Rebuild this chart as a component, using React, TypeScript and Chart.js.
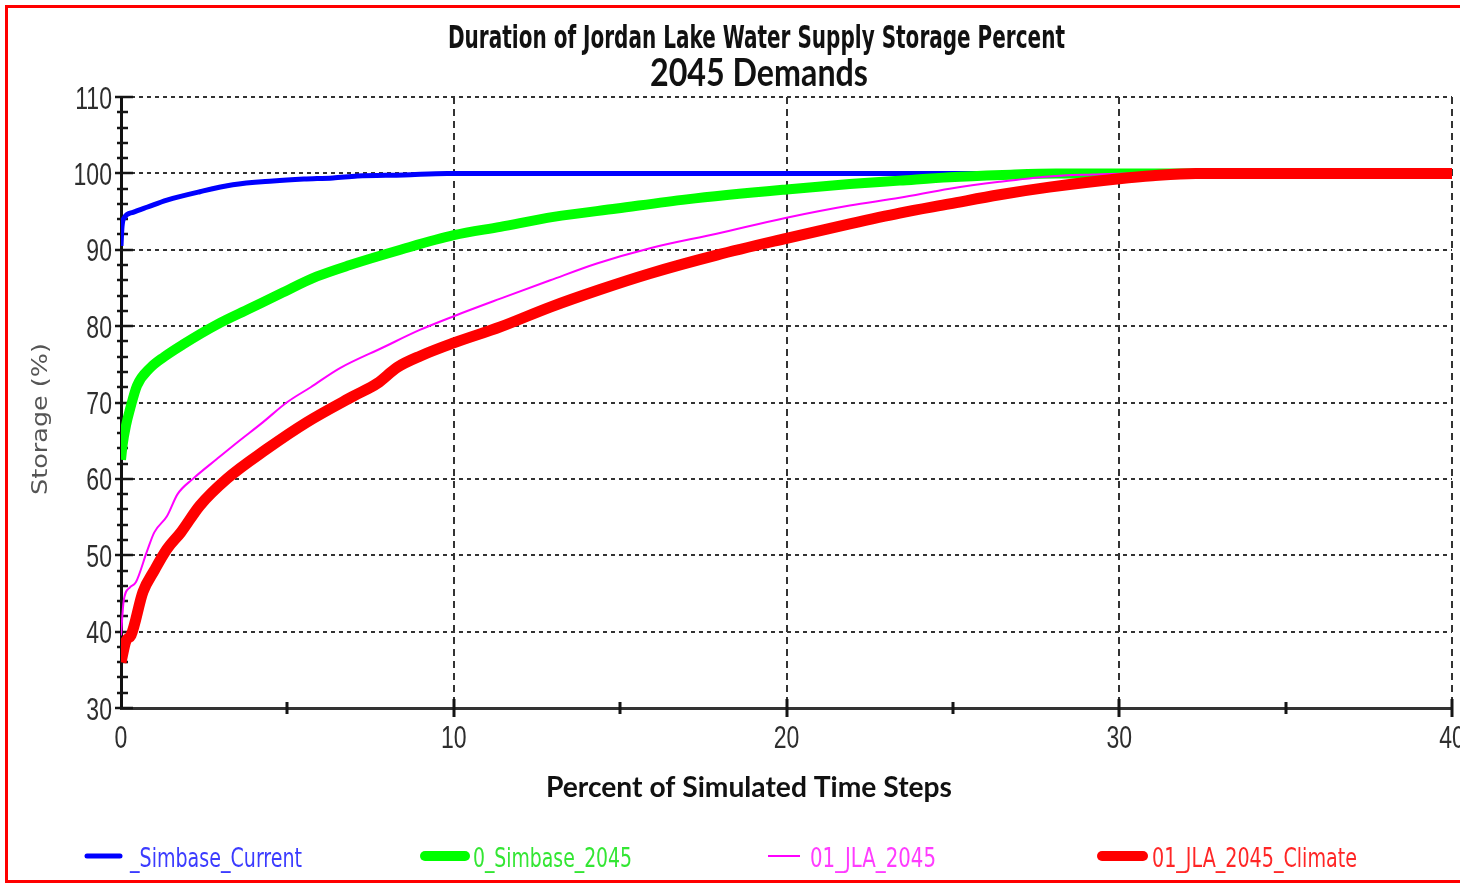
import React, { useEffect, useRef } from "react";
import { Chart, registerables } from "chart.js";

Chart.register(...registerables);

const TITLE = "Duration of Jordan Lake Water Supply Storage Percent";
const SUBTITLE = "2045 Demands";
const X_TITLE = "Percent of Simulated Time Steps";
const Y_TITLE = "Storage (%)";

const SERIES_NAMES = ["_Simbase_Current", "0_Simbase_2045", "01_JLA_2045", "01_JLA_2045_Climate"];
const LINE_COLORS = ["#0000ff", "#00ff00", "#ff00ff", "#ff0000"];
const TEXT_COLORS = ["#3b3bff", "#33e633", "#ff3cff", "#ff2626"];
const LINE_WIDTHS = [5, 10, 2, 11];

const simbaseCurrentX = [0, 0.03, 0.1, 0.36, 0.8, 1.38, 2.37, 3.36, 4.57, 5.5, 6.37, 7.1, 8.5, 9.8, 40];
const simbaseCurrentY = [90.5, 93, 94.2, 94.9, 95.6, 96.5, 97.6, 98.5, 99.0, 99.25, 99.4, 99.65, 99.8, 100, 100];

const simbase2045X = [0, 0.05, 0.15, 0.27, 0.48, 0.87, 1.3, 1.86, 2.88, 3.87, 4.86, 5.89, 6.88, 8.4, 10, 11.4, 13, 14.9, 17, 20, 21.9, 23.4, 24.9, 26.5, 28.1, 40];
const simbase2045Y = [62.5, 64.5, 67, 69.1, 72.2, 74.5, 76, 77.6, 80.2, 82.3, 84.4, 86.5, 88.0, 90.0, 91.9, 93.0, 94.3, 95.4, 96.6, 97.9, 98.6, 99.05, 99.5, 99.8, 100, 100];

const jla2045X = [0, 0.08, 0.27, 0.45, 0.78, 1.0, 1.38, 1.7, 2.16, 2.88, 3.5, 4.26, 4.98, 5.7, 6.58, 7.87, 8.98, 10, 11.4, 12.9, 14.3, 15.9, 17.9, 20, 21.9, 23.4, 24.9, 26.4, 27.9, 29.2, 30.4, 40];
const jla2045Y = [39.5, 44, 45.8, 46.5, 50.5, 53, 55.1, 58, 60, 62.6, 64.8, 67.4, 70, 72, 74.5, 77.2, 79.5, 81.3, 83.6, 86, 88.2, 90.2, 92.1, 94.2, 95.8, 96.8, 98, 98.9, 99.6, 99.85, 100, 100];

const jlaClimateX = [0, 0.15, 0.3, 0.66, 1.0, 1.38, 1.8, 2.37, 3.18, 4.38, 5.58, 6.97, 7.7, 8.3, 9, 10, 11.4, 12.9, 14.4, 15.9, 17.9, 20, 21.9, 23.4, 24.9, 26.4, 27.9, 30, 31, 32.3, 40];
const jlaClimateY = [36, 38.8, 39.5, 45.2, 48, 50.8, 53, 56.5, 60, 63.9, 67.4, 70.8, 72.5, 74.6, 76.1, 77.8, 79.9, 82.5, 84.8, 86.9, 89.3, 91.5, 93.4, 94.8, 96, 97.2, 98.2, 99.3, 99.7, 100, 100];

const X_MIN = 0;
const X_MAX = 40;
const X_STEP = 10;
const X_MINOR_STEP = 5;
const Y_MIN = 30;
const Y_MAX = 110;
const Y_STEP = 10;
const Y_MINOR_STEP = 2;

const NARROW = '"Liberation Sans Narrow", "Arial Narrow", "DejaVu Sans Condensed", sans-serif';
const TICK_FONT = '32px "Liberation Sans", Arial, sans-serif';
const CANVAS_W = 1480;
const CANVAS_H = 883;

function fitText(
  ctx: CanvasRenderingContext2D,
  text: string,
  x: number,
  y: number,
  width: number,
  font: string,
  color: string,
  align: CanvasTextAlign
) {
  ctx.save();
  ctx.font = font;
  ctx.fillStyle = color;
  ctx.textBaseline = "alphabetic";
  ctx.textAlign = align;
  const w = ctx.measureText(text).width;
  const s = w > 0 ? width / w : 1;
  ctx.translate(x, y);
  ctx.scale(s, 1);
  ctx.fillText(text, 0, 0);
  ctx.restore();
}

function scaledText(
  ctx: CanvasRenderingContext2D,
  text: string,
  x: number,
  y: number,
  sx: number,
  font: string,
  color: string,
  align: CanvasTextAlign
) {
  ctx.save();
  ctx.font = font;
  ctx.fillStyle = color;
  ctx.textBaseline = "alphabetic";
  ctx.textAlign = align;
  ctx.translate(x, y);
  ctx.scale(sx, 1);
  ctx.fillText(text, 0, 0);
  ctx.restore();
}

const axisTicksPlugin = {
  id: "axisTicks",
  beforeDatasetsDraw(chart: any) {
    const ctx = chart.ctx as CanvasRenderingContext2D;
    const xs = chart.scales.x;
    const ys = chart.scales.y;
    const left = chart.chartArea.left;
    const bottom = chart.chartArea.bottom;
    ctx.save();
    ctx.strokeStyle = "#151515";
    ctx.lineWidth = 2.5;
    for (let v = Y_MIN; v <= Y_MAX; v += Y_MINOR_STEP) {
      const py = Math.round(ys.getPixelForValue(v));
      const major = v % Y_STEP === 0;
      ctx.beginPath();
      ctx.moveTo(left - (major ? 6 : 4), py);
      ctx.lineTo(left + (major ? 12 : 7), py);
      ctx.stroke();
    }
    ctx.lineWidth = 3;
    for (let v = X_MIN + X_MINOR_STEP; v <= X_MAX; v += X_MINOR_STEP) {
      const px = Math.round(xs.getPixelForValue(v));
      const major = v % X_STEP === 0;
      ctx.beginPath();
      ctx.moveTo(px, bottom - (major ? 9 : 6));
      ctx.lineTo(px, bottom + (major ? 9 : 6));
      ctx.stroke();
    }
    ctx.restore();

    // tick labels from the library's scale ticks
    ys.ticks.forEach((t: any) => {
      const py = ys.getPixelForValue(t.value);
      scaledText(ctx, String(t.value), left - 9, py + 11.5, 0.72, TICK_FONT, "#2e2e2e", "right");
    });
    xs.ticks.forEach((t: any) => {
      const px = xs.getPixelForValue(t.value);
      scaledText(ctx, String(t.value), px, bottom + 40, 0.72, TICK_FONT, "#2e2e2e", "center");
    });
  },
};

const textPlugin = {
  id: "texts",
  afterDraw(chart: any) {
    const ctx = chart.ctx as CanvasRenderingContext2D;
    fitText(ctx, TITLE, 756.5, 48, 617, `bold 32px ${NARROW}`, "#111", "center");
    fitText(ctx, SUBTITLE, 759, 86, 218, "bold 38px Lato, 'Open Sans', sans-serif", "#111", "center");
    fitText(ctx, X_TITLE, 749, 797, 406, "bold 28px Lato, 'Open Sans', sans-serif", "#111", "center");
    ctx.save();
    ctx.translate(47, 419);
    ctx.rotate(-Math.PI / 2);
    fitText(ctx, Y_TITLE, 0, 0, 152, "21px 'DejaVu Sans', sans-serif", "#555", "center");
    ctx.restore();

    // legend
    const lineStarts = [87, 425, 768, 1102];
    const lineEnds = [120, 465, 800, 1143];
    const textStarts = [130, 473, 810, 1152];
    const textWidths = [172, 159, 126, 205];
    const legendLineY = 856;
    const legendTextY = 867;
    const legendWidths = [5, 10, 2, 10];
    chart.data.datasets.forEach((ds: any, i: number) => {
      ctx.save();
      ctx.strokeStyle = ds.borderColor;
      ctx.lineWidth = legendWidths[i];
      ctx.lineCap = legendWidths[i] > 3 ? "round" : "butt";
      ctx.beginPath();
      ctx.moveTo(lineStarts[i], legendLineY);
      ctx.lineTo(lineEnds[i], legendLineY);
      ctx.stroke();
      ctx.restore();
      fitText(ctx, ds.label, textStarts[i], legendTextY, textWidths[i], `26px ${NARROW}`, TEXT_COLORS[i], "left");
    });
  },
};

function toPoints(xs: number[], ys: number[]) {
  return xs.map((x, i) => ({ x, y: ys[i] }));
}

export default function App() {
  const canvasRef = useRef<HTMLCanvasElement | null>(null);

  useEffect(() => {
    const canvas = canvasRef.current;
    if (!canvas) return;
    const seriesX = [simbaseCurrentX, simbase2045X, jla2045X, jlaClimateX];
    const seriesY = [simbaseCurrentY, simbase2045Y, jla2045Y, jlaClimateY];
    const chart = new Chart(canvas, {
      type: "line",
      data: {
        datasets: SERIES_NAMES.map((name, i) => ({
          label: name,
          data: toPoints(seriesX[i], seriesY[i]),
          borderColor: LINE_COLORS[i],
          backgroundColor: LINE_COLORS[i],
          borderWidth: LINE_WIDTHS[i],
          pointRadius: 0,
          cubicInterpolationMode: "monotone",
          fill: false,
          order: 4 - i,
          clip: 0,
          borderJoinStyle: "round",
        })),
      },
      options: {
        responsive: false,
        animation: false,
        devicePixelRatio: 1,
        layout: { padding: { left: 0, right: 28, top: 97, bottom: 0 } },
        plugins: {
          legend: { display: false },
          title: { display: false },
          tooltip: { enabled: false },
        },
        scales: {
          x: {
            type: "linear",
            min: X_MIN,
            max: X_MAX,
            afterFit: (s: any) => {
              s.height = 175;
            },
            ticks: { stepSize: X_STEP, display: false },
            grid: { color: "#333", lineWidth: 2, drawTicks: false },
            border: { display: true, color: "#333", width: 3, dash: [7, 5] },
          },
          y: {
            type: "linear",
            min: Y_MIN,
            max: Y_MAX,
            afterFit: (s: any) => {
              s.width = 121;
            },
            ticks: { stepSize: Y_STEP, display: false },
            grid: { color: "#333", lineWidth: 2, drawTicks: false },
            border: { display: true, color: "#111", width: 3, dash: [4, 4] },
          },
        },
      },
      plugins: [axisTicksPlugin, textPlugin],
    });
    return () => chart.destroy();
  }, []);

  return (
    <div
      style={{
        position: "fixed",
        left: 0,
        top: 0,
        width: 1460,
        height: 883,
        overflow: "hidden",
        background: "#fff",
      }}
    >
      <canvas
        ref={canvasRef}
        width={CANVAS_W}
        height={CANVAS_H}
        style={{ position: "absolute", left: 0, top: 0, width: CANVAS_W, height: CANVAS_H }}
      />
      <div
        style={{
          position: "absolute",
          left: 5,
          top: 5,
          width: 1480,
          height: 878,
          boxSizing: "border-box",
          border: "3px solid #ff0000",
          pointerEvents: "none",
        }}
      />
    </div>
  );
}
